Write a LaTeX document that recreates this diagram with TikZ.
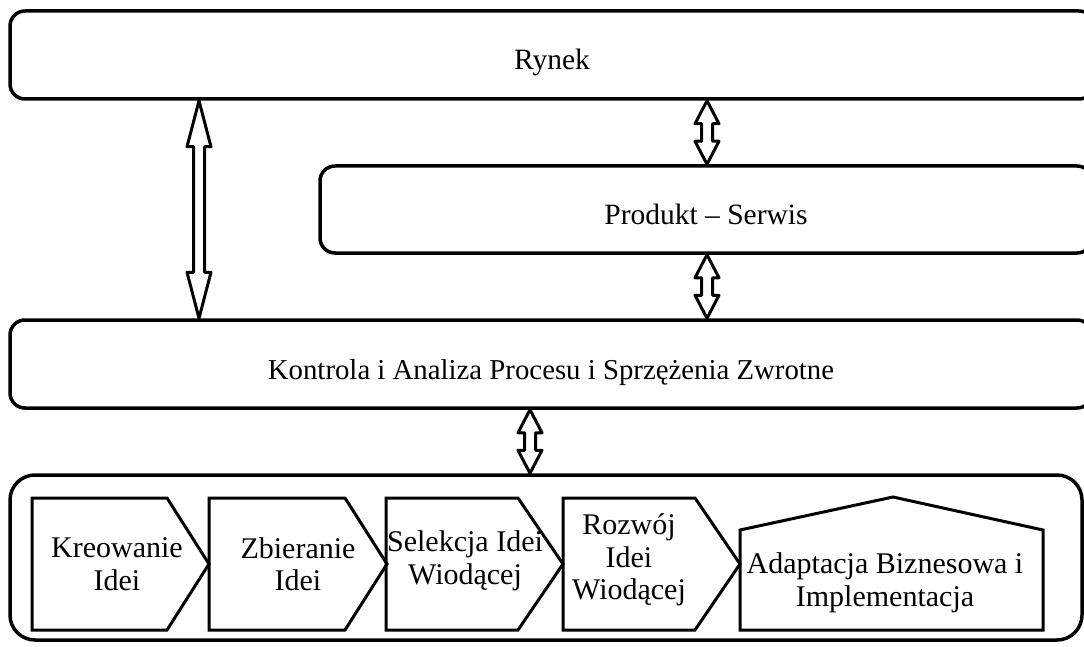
\documentclass[tikz,border=0pt]{standalone}
\usepackage{fontspec}
\setmainfont{Liberation Serif}
\usepackage{tikz}
\usetikzlibrary{calc}
\tikzstyle{bar} = [rectangle, rounded corners=15pt, draw=black, line width=3.5pt, inner sep=0pt, text height=30pt, text depth=0pt, font=\fontsize{29.5}{32.5}\selectfont]
\tikzstyle{stage} = [draw=black, line width=3pt, line join=miter]
\tikzstyle{label} = [align=center, inner sep=0pt, font=\fontsize{30}{32.5}\selectfont]
\tikzstyle{fatarrow} = [draw=black, fill=white, line width=3pt, line join=round]

% hollow two-headed arrow: top node, bottom node, x, head length
\newcommand{\hollowarrow}[4]{%
	\draw [fatarrow] let \p1=#1, \p2=#2 in
	(#3pt,\y1) -- (#3pt+12pt,\y1-#4pt) -- (#3pt+5.5pt,\y1-#4pt) -- (#3pt+5.5pt,\y2+#4pt) -- (#3pt+12pt,\y2+#4pt)
	-- (#3pt,\y2) -- (#3pt-12pt,\y2+#4pt) -- (#3pt-5.5pt,\y2+#4pt) -- (#3pt-5.5pt,\y1-#4pt) -- (#3pt-12pt,\y1-#4pt) -- cycle;}

\begin{document}
\begin{tikzpicture}[x=1pt, y=-1pt]
	\clip (0,0) rectangle (1084,647);
	
	\node (rynek) [bar, minimum width=1084pt, minimum height=88pt] at (552,55) {Rynek};
	\node (produkt) [bar, minimum width=772pt, minimum height=87pt] at (706,209.5) {Produkt – Serwis};
	\node (kontrola) [bar, minimum width=1082pt, minimum height=88pt, font=\fontsize{28.8}{32.5}\selectfont] at (551,364) {Kontrola i Analiza Procesu i Sprzężenia Zwrotne};
	\node (proces) [bar, rounded corners=25pt, minimum width=1072pt, minimum height=165pt] at (546,557.5) {};
	
	% stages of the process
	\foreach \a/\b/\c in {32/167/209, 209/345/387, 386/518/563, 563/695/740}
		\draw [stage] (\a,498) -- (\b,498) -- (\c,564) -- (\b,630) -- (\a,630) -- cycle;
	\draw [stage] (740,530) -- (893,497) -- (1043,530) -- (1043,630) -- (740,630) -- cycle;
	
	\node (kreowanie) [label] at (117,564) {Kreowanie\\Idei};
	\node (zbieranie) [label] at (298,564) {Zbieranie\\Idei};
	\node (selekcja) [label] at (465,561) {Selekcja Idei\\Wiodącej};
	\node (rozwoj) [label] at (629,560) {Rozwój\\Idei\\Wiodącej};
	\node (adaptacja) [label] at (885,583) {Adaptacja Biznesowa i\\Implementacja};
	
	\hollowarrow{(rynek.south)}{(kontrola.north)}{199}{46}
	\hollowarrow{(rynek.south)}{(produkt.north)}{707}{23}
	\hollowarrow{(produkt.south)}{(kontrola.north)}{707}{23}
	\hollowarrow{(kontrola.south)}{(proces.north)}{530}{23}
	
\end{tikzpicture}
\end{document}
